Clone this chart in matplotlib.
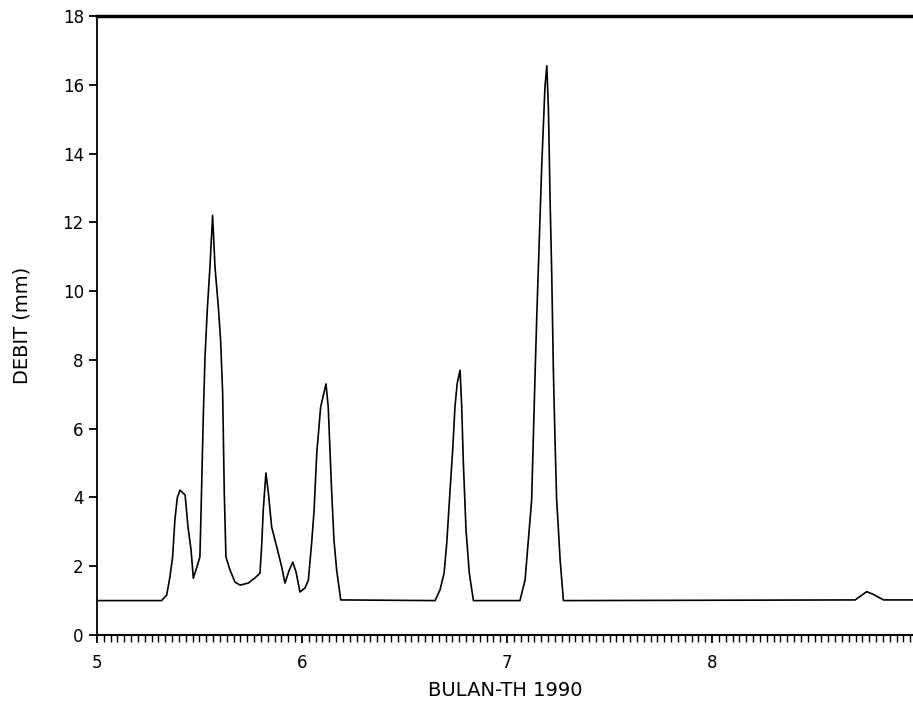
import matplotlib
matplotlib.use("Agg")
import matplotlib.pyplot as plt
from matplotlib.ticker import MultipleLocator

# debit readings (month index, mm)
bulan = [5.0, 5.315, 5.34, 5.356, 5.369, 5.38, 5.392, 5.405, 5.43, 5.444,
         5.459, 5.47, 5.486, 5.502, 5.507, 5.519, 5.527, 5.538, 5.551, 5.564,
         5.576, 5.592, 5.603, 5.613, 5.621, 5.629, 5.649, 5.673, 5.698, 5.738,
         5.771, 5.795, 5.803, 5.811, 5.824, 5.836, 5.852, 5.877, 5.901, 5.917,
         5.938, 5.955, 5.971, 5.99, 6.015, 6.031, 6.047, 6.059, 6.072, 6.091,
         6.107, 6.117, 6.128, 6.137, 6.145, 6.156, 6.169, 6.189,
         6.649, 6.673, 6.693, 6.706, 6.722, 6.735, 6.746, 6.757, 6.771, 6.779,
         6.787, 6.8, 6.816, 6.836,
         7.063, 7.088, 7.104, 7.12, 7.128, 7.137, 7.145, 7.161, 7.169, 7.177,
         7.185, 7.194, 7.202, 7.21, 7.218, 7.226, 7.234, 7.242, 7.25, 7.259,
         7.275,
         8.698, 8.754, 8.787, 8.836, 8.98]
debit = [1.0, 1.0, 1.16, 1.69, 2.27, 3.34, 4.0, 4.21, 4.07, 3.14,
         2.47, 1.65, 1.95, 2.27, 3.43, 6.45, 8.08, 9.45, 10.7, 12.2,
         10.67, 9.54, 8.58, 7.04, 4.13, 2.27, 1.89, 1.54, 1.45, 1.51,
         1.66, 1.8, 2.56, 3.63, 4.71, 4.13, 3.14, 2.56, 1.98, 1.51,
         1.89, 2.12, 1.83, 1.25, 1.37, 1.6, 2.67, 3.63, 5.29, 6.63,
         7.04, 7.3, 6.63, 5.29, 4.13, 2.76, 1.89, 1.02,
         1.0, 1.31, 1.8, 2.67, 4.2, 5.38, 6.63, 7.32, 7.7, 6.63,
         5.0, 3.05, 1.8, 1.0,
         1.0, 1.6, 2.76, 3.92, 5.67, 7.62, 9.26, 12.16, 13.6, 14.78,
         15.94, 16.55, 15.27, 12.65, 10.5, 7.7, 5.67, 3.92, 3.14, 2.18,
         1.0,
         1.02, 1.26, 1.18, 1.02, 1.02]

x_ticks = [5, 6, 7, 8]
y_ticks = [0, 2, 4, 6, 8, 10, 12, 14, 16, 18]

fig = plt.figure(figsize=(9.13, 7.11), dpi=100)
ax = fig.add_axes([0.1062, 0.1069, 0.8938, 0.8706])

ax.plot(bulan, debit, color='black', linewidth=1.2)

ax.set_xlim(5, 8.98)
ax.set_ylim(0, 18)
ax.set_xticks(x_ticks)
ax.set_yticks(y_ticks)
ax.xaxis.set_minor_locator(MultipleLocator(1 / 30))

ax.spines['right'].set_visible(False)
ax.spines['top'].set_linewidth(2.5)
ax.spines['left'].set_linewidth(1.3)
ax.spines['bottom'].set_linewidth(1.5)

ax.tick_params(axis='both', which='major', direction='out', length=6, width=1.3,
               labelsize=12, colors='black')
ax.tick_params(axis='x', which='minor', direction='out', length=5, width=1.0)
ax.tick_params(axis='x', which='major', pad=8)

ax.set_xlabel('BULAN-TH 1990', fontsize=14, labelpad=6)
ax.set_ylabel('DEBIT (mm)', fontsize=14, labelpad=22)

fig.savefig('out.png', dpi=100)
